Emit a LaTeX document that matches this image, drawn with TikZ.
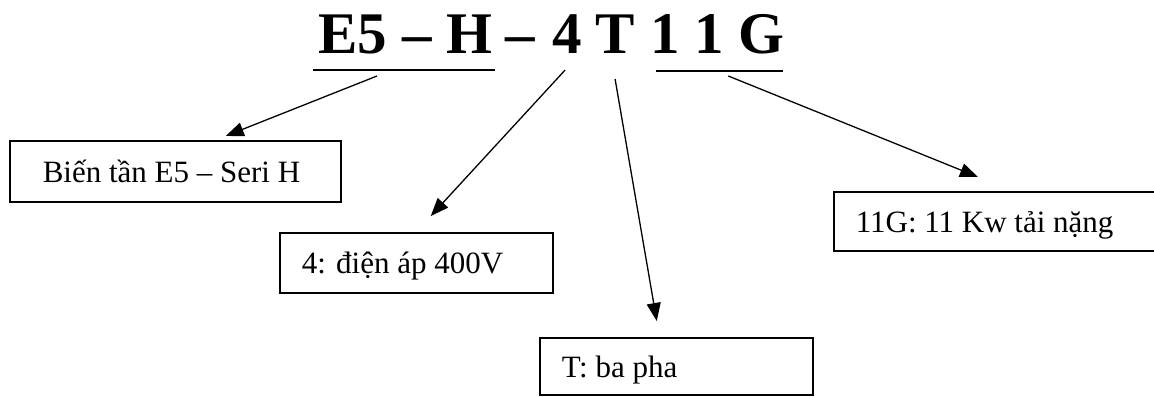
\documentclass[tikz,border=0pt]{standalone}
\usepackage{fontspec}
\setmainfont{Liberation Serif}
\usetikzlibrary{arrows.meta}
\tikzset{
code/.style={inner sep=0pt, anchor=base west, font=\bfseries\fontsize{29.5}{34}\selectfont},
tag/.style={draw, line width=0.75pt, anchor=north west, inner xsep=11pt, inner ysep=0pt, text height=13pt, text depth=2pt, font=\fontsize{15.5}{18}\selectfont},
uline/.style={line width=1pt},
arr/.style={line width=0.65pt, -{Triangle[length=9pt, width=7pt]}}
}

\begin{document}
\begin{tikzpicture}[x=0.5pt, y=-0.5pt]
\useasboundingbox (0,0) rectangle (1154,396);
\clip (0,0) rectangle (1154,396);
\node[code] (eh) at (318,53) {E5 – H};
\node[code] (sep) at (505,53) {–};
\node[code] (four) at (552,53) {4};
\node[code] (tee) at (595,53) {T};
\node[code] (ellg) at (650,53) {1 1 G};
\node[tag, inner xsep=16.5pt, minimum height=30.5pt] (seri) at (9,140) {\makebox[132.5pt][l]{Biến tần E5 – Seri H}};
\node[tag, minimum height=30pt] (volt) at (279,232) {\makebox[114.5pt][l]{4: điện áp 400V}};
\node[tag, minimum height=28.5pt] (phase) at (539,337) {\makebox[114.5pt][l]{T: ba pha}};
\node[tag, minimum height=29.5pt] (power) at (833,191) {\makebox[150pt][l]{11G: 11 Kw tải nặng}};
\draw[uline] ([shift={(-5,17)}]eh.base west) -- ([shift={(2,17)}]eh.base east);
\draw[uline] ([shift={(6,18)}]ellg.base west) -- ([shift={(-2,18)}]ellg.base east);
\draw[arr] ([shift={(59,23)}]eh.base west) -- ([shift={(50.5,-4)}]seri.north);
\draw[arr] ([shift={(-2,17)}]four.base) -- ([shift={(14.5,-16)}]volt.north);
\draw[arr] ([shift={(0,26)}]tee.base) -- ([shift={(-19.5,-16)}]phase.north);
\draw[arr] ([shift={(10.7,23)}]ellg.base) -- ([shift={(145,-14)}]power.north west);
\end{tikzpicture}
\end{document}
